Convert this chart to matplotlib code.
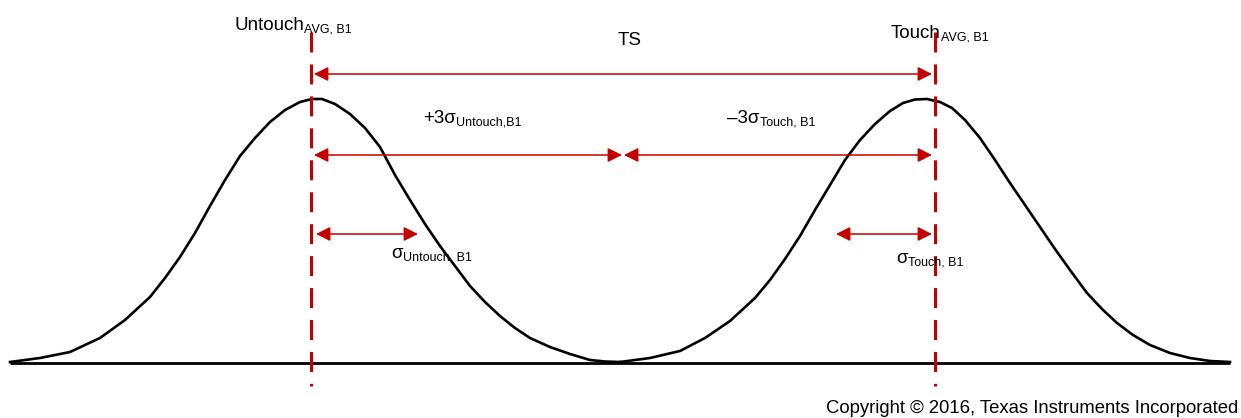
import matplotlib
matplotlib.use("Agg")
import matplotlib.pyplot as plt
from matplotlib.patches import ArrowStyle

plt.rcParams['font.family'] = ['Liberation Sans', 'DejaVu Sans']
plt.rcParams['lines.scale_dashes'] = False

# ---- data (traced in pixel space of the reference drawing) ----
left_curve_x = [10, 40, 70, 100, 125, 150, 165, 180, 195, 210, 225, 240, 255, 270, 285, 300,
                312, 322, 335, 350, 365, 380, 395, 410, 425, 440, 455, 470, 485, 500, 515,
                530, 550, 570, 590, 605, 620]
left_curve_y = [362, 358, 352, 338, 320, 297, 278, 257, 233, 206, 180, 156, 138, 122, 110, 102,
                99, 99, 104, 114, 128, 147, 175, 200, 224, 246, 266, 286, 302, 316, 328,
                338, 347, 354, 360, 361.5, 362]
right_curve_x = [620, 650, 680, 705, 730, 755, 770, 785, 800, 815, 830, 845, 860, 875, 890, 903,
                 915, 927, 940, 952, 965, 980, 995, 1010, 1025, 1040, 1055, 1070, 1087, 1102,
                 1117, 1133, 1150, 1170, 1190, 1210, 1230]
right_curve_y = [362, 358, 351, 338, 321, 298, 280, 259, 236, 210, 185, 160, 140, 124, 111, 103,
                 99.5, 99, 102, 108, 120, 138, 160, 183, 205, 227, 249, 270, 293, 309,
                 323, 335, 345, 353, 358, 361, 362]
baseline_x = [10, 1230]
baseline_y = [362.5, 362.5]

mean_untouch = 311
mean_touch = 935
midpoint = 623
sigma_untouch_end = 418
sigma_touch_start = 836

RED = '#C40000'

fig = plt.figure(figsize=(12.41, 4.18), dpi=100)
ax = fig.add_axes([0, 0, 1, 1])
ax.set_xlim(0, 1241)
ax.set_ylim(418, 0)
ax.axis('off')

# baseline and curves
ax.plot(baseline_x, baseline_y, color='black', lw=2.0, solid_capstyle='butt')
ax.plot(left_curve_x, left_curve_y, color='black', lw=1.9, solid_joinstyle='round')
ax.plot(right_curve_x, right_curve_y, color='black', lw=1.9, solid_joinstyle='round')

# dashed mean lines
for xm in (mean_untouch, mean_touch):
    ax.plot([xm, xm], [32, 386], color=RED, lw=2.2, dashes=(14.4, 8.6),
            dash_capstyle='butt')

style = ArrowStyle('<|-|>', head_length=0.86, head_width=0.43)


def arrow(x0, x1, y):
    ax.annotate('', xy=(x1, y), xytext=(x0, y), xycoords='data', textcoords='data',
                arrowprops=dict(arrowstyle=style, color=RED, lw=1.1, shrinkA=0, shrinkB=0,
                                mutation_scale=10))


arrow(mean_untouch + 3, mean_touch - 3, 74)
arrow(mean_untouch + 3, midpoint - 1, 155)
arrow(midpoint + 1, mean_touch - 3, 155)
arrow(mean_untouch + 5, sigma_untouch_end, 234)
arrow(sigma_touch_start, mean_touch - 3, 234)


def label(x, y, main, sub, size=13.5, subsize=9):
    t = ax.text(x, y, main, fontsize=size, va='baseline', ha='left', color='black')
    ax.annotate(sub, xy=(1, 0), xycoords=t, xytext=(0.3, 1.2), textcoords='offset points',
                fontsize=subsize, va='baseline', ha='left', color='black')


label(234, 30, 'Untouch', 'AVG, B1')
label(891, 38, 'Touch', 'AVG, B1')
ax.text(630, 45, 'TS', fontsize=13.5, va='baseline', ha='center')
label(423, 123, '+3σ', 'Untouch,B1')
label(727, 123, '\u20133σ', 'Touch, B1')
label(391, 258, 'σ', 'Untouch, B1')
label(896, 263, 'σ', 'Touch, B1')

ax.text(1238, 413, 'Copyright \u00a9 2016, Texas Instruments Incorporated', fontsize=13.3,
        va='baseline', ha='right')

fig.savefig('out.png', dpi=100)
